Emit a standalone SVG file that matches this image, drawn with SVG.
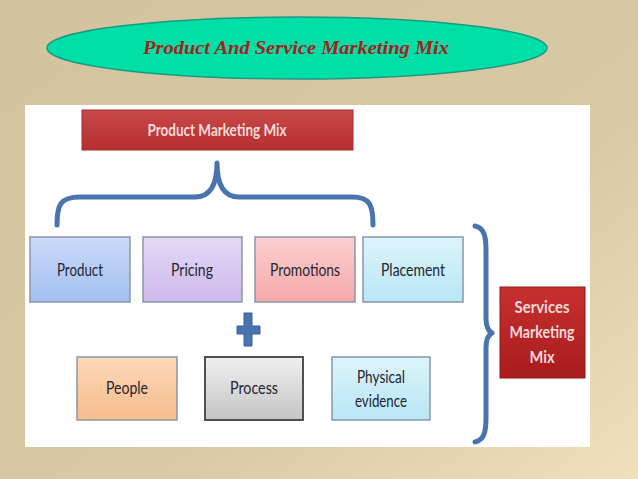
<svg xmlns="http://www.w3.org/2000/svg" width="638" height="479" viewBox="0 0 638 479">
<defs>
<linearGradient id="bg" x1="0" y1="0" x2="1" y2="1">
<stop offset="0" stop-color="#d3c39f"/><stop offset="0.6" stop-color="#d8c8a4"/><stop offset="1" stop-color="#efdfba"/>
</linearGradient>
<linearGradient id="gBlue" x1="0" y1="0" x2="0" y2="1"><stop offset="0" stop-color="#cbdaf8"/><stop offset="1" stop-color="#a3bff2"/></linearGradient>
<linearGradient id="gLav" x1="0" y1="0" x2="0" y2="1"><stop offset="0" stop-color="#e4d8f6"/><stop offset="1" stop-color="#cdb9ec"/></linearGradient>
<linearGradient id="gPink" x1="0" y1="0" x2="0" y2="1"><stop offset="0" stop-color="#fcd0d0"/><stop offset="1" stop-color="#f6a8a8"/></linearGradient>
<linearGradient id="gCyan" x1="0" y1="0" x2="0" y2="1"><stop offset="0" stop-color="#dcf4fb"/><stop offset="1" stop-color="#b8e6f6"/></linearGradient>
<linearGradient id="gPeach" x1="0" y1="0" x2="0" y2="1"><stop offset="0" stop-color="#fcd8b8"/><stop offset="1" stop-color="#f6bc8c"/></linearGradient>
<linearGradient id="gGray" x1="0" y1="0" x2="0" y2="1"><stop offset="0" stop-color="#f0f0f0"/><stop offset="1" stop-color="#c4c4c4"/></linearGradient>
<linearGradient id="gRed" x1="0" y1="0" x2="0" y2="1"><stop offset="0" stop-color="#c84a48"/><stop offset="1" stop-color="#b62e2e"/></linearGradient>
<linearGradient id="gDRed" x1="0" y1="0" x2="0" y2="1"><stop offset="0" stop-color="#c83030"/><stop offset="1" stop-color="#a81c1c"/></linearGradient>
</defs>
<style>
.box{stroke:#8a96a8;stroke-width:1.5}
.lbl{font-family:Lato,"Open Sans",sans-serif;font-size:17px;fill:#1e2630;text-anchor:middle}
.wlbl{font-family:Lato,"Open Sans",sans-serif;font-size:17px;font-weight:bold;fill:#f4dada;text-anchor:middle}
.brace{fill:none;stroke:#4a74ae;stroke-width:5;stroke-linecap:round;stroke-linejoin:round}
</style>
<rect x="0" y="0" width="638" height="479" fill="url(#bg)"/>
<g id="title">
<ellipse cx="297" cy="48" rx="250" ry="31" fill="#00dfa8" stroke="#1a9a80" stroke-width="1.5"/>
<text x="296" y="54" font-family="'Liberation Serif',serif" font-size="19" font-weight="bold" font-style="italic" fill="#a3221c" text-anchor="middle" textLength="306" lengthAdjust="spacingAndGlyphs">Product And Service Marketing Mix</text>
</g>
<rect x="25" y="105" width="565" height="342" fill="#ffffff"/>
<g id="product-marketing-mix">
<rect x="82" y="110" width="271" height="40" fill="url(#gRed)" stroke="#a03030" stroke-width="1"/>
<text x="217" y="136" class="wlbl" textLength="139" lengthAdjust="spacingAndGlyphs">Product Marketing Mix</text>
</g>
<g id="connectors">
<path class="brace" d="M57,225 C57,205 60,197 80,197 L195,197 C210,197 217,185 217,163 C217,185 224,197 239,197 L352,197 C370,197 373,205 373,225"/>
<path class="brace" d="M475,226 C484,228 486,236 486,250 L486,318 C486,326 488,331 492,333 C488,335 486,340 486,348 L486,418 C486,432 484,440 475,442"/>
<path d="M244,313 h8 v13 h8 v8 h-8 v12 h-8 v-12 h-7 v-8 h7 z" fill="#4a74ae" stroke="#3a5f94" stroke-width="1"/>
</g>
<g id="product">
<rect class="box" x="30" y="237" width="100" height="65" fill="url(#gBlue)"/>
<text class="lbl" x="80" y="276" textLength="46" lengthAdjust="spacingAndGlyphs">Product</text>
</g>
<g id="pricing">
<rect class="box" x="143" y="237" width="99" height="65" fill="url(#gLav)"/>
<text class="lbl" x="192" y="276" textLength="42" lengthAdjust="spacingAndGlyphs">Pricing</text>
</g>
<g id="promotions">
<rect class="box" x="255" y="237" width="100" height="65" fill="url(#gPink)"/>
<text class="lbl" x="305" y="276" textLength="70" lengthAdjust="spacingAndGlyphs">Promotions</text>
</g>
<g id="placement">
<rect class="box" x="363" y="237" width="100" height="65" fill="url(#gCyan)"/>
<text class="lbl" x="413" y="276" textLength="64" lengthAdjust="spacingAndGlyphs">Placement</text>
</g>
<g id="people">
<rect class="box" x="77" y="357" width="100" height="63" fill="url(#gPeach)"/>
<text class="lbl" x="127" y="394" textLength="42" lengthAdjust="spacingAndGlyphs">People</text>
</g>
<g id="process">
<rect x="205" y="357" width="98" height="63" fill="url(#gGray)" stroke="#505050" stroke-width="2"/>
<text class="lbl" x="254" y="394" textLength="48" lengthAdjust="spacingAndGlyphs">Process</text>
</g>
<g id="physical-evidence">
<rect class="box" x="332" y="357" width="98" height="63" fill="url(#gCyan)"/>
<text class="lbl" x="381" y="383" textLength="48" lengthAdjust="spacingAndGlyphs">Physical</text>
<text class="lbl" x="381" y="407" textLength="52" lengthAdjust="spacingAndGlyphs">evidence</text>
</g>
<g id="services-marketing-mix">
<rect x="500" y="287" width="85" height="91" fill="url(#gDRed)" stroke="#8a1a1a" stroke-width="1"/>
<text class="wlbl" x="542" y="313" textLength="55" lengthAdjust="spacingAndGlyphs">Services</text>
<text class="wlbl" x="542" y="338" textLength="65" lengthAdjust="spacingAndGlyphs">Marketing</text>
<text class="wlbl" x="542" y="363" textLength="25" lengthAdjust="spacingAndGlyphs">Mix</text>
</g>
</svg>
